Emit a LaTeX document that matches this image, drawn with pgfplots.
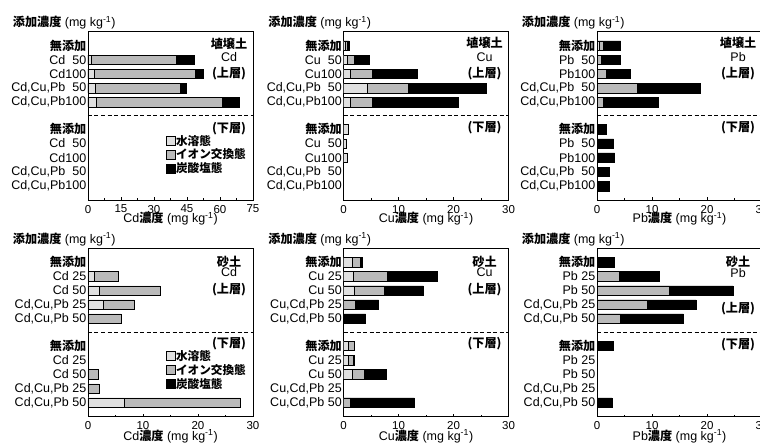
\documentclass[border=0pt]{standalone}
\usepackage{fontspec}
\setmainfont{Liberation Sans}
\newfontfamily\jp[Scale=0.97]{Noto Sans CJK JP}
\usepackage{pgfplots}
\pgfplotsset{compat=1.18}
\definecolor{cw}{gray}{0.88}
\definecolor{ci}{gray}{0.73}
\newcommand{\J}[1]{{\jp\bfseries #1}}
\newcommand{\unitlabel}{(mg kg\textsuperscript{-1})}
\tikzset{
  ann/.style={font=\fontsize{12.5}{13}\selectfont, inner sep=0pt},
  sep/.style={dash pattern=on 4pt off 2.5pt, line width=0.8pt},
}
\pgfplotsset{
  panel/.style={
    scale only axis, width=165pt, height=168.3pt,
    anchor=north west,
    ymin=0, ymax=168.3, xmin=0, xmax=30,
    xbar, bar width=9.5pt,
    xtick pos=bottom, ytick pos=left, tick align=inside,
    ytick={13.9,28.1,42.3,56.5,70.7,97.9,112,126.1,140.2,154.3},
    ytick style={draw=none},
    xtick={0,10,20,30}, minor x tick num=1,
    major tick length=3pt, minor tick length=2pt,
    tick style={black, line width=0.5pt},
    axis line style={line width=0.7pt},
    /pgf/number format/assume math mode=true,
    xticklabel style={font=\fontsize{11.5}{12}\selectfont, yshift=-1.5pt},
    yticklabel style={font=\fontsize{12.5}{13}\selectfont, inner sep=0.3pt, xshift=-1.2pt},
    label style={font=\fontsize{12.5}{13}\selectfont},
    legend style={draw=none, fill=none, font=\fontsize{12}{12}\selectfont,
      anchor=north east, inner sep=0pt, row sep=0.3pt,
      nodes={inner sep=1pt}},
    legend cell align=left,
    reverse legend,
    legend image code/.code={\draw[##1,/tikz/.cd,draw=black,line width=0.5pt] (0pt,-4.5pt) rectangle (9pt,4.5pt);},
  },
  cw/.style={fill=cw, draw=black, line width=0.5pt, bar shift=0pt},
  ci/.style={fill=ci, draw=black, line width=0.5pt, bar shift=0pt},
  cb/.style={fill=black, draw=black, line width=0.5pt, bar shift=0pt},
}
\begin{document}
\begin{tikzpicture}
\useasboundingbox (0,0) rectangle (760pt,-442pt);
% ---------------- Panel 1
\begin{axis}[panel, name=a1, at={(88pt,-31.7pt)}, xmax=75, xtick={0,15,...,75},
  yticklabels={{Cd,Cu,Pb100},{Cd,Cu,Pb\hphantom{1}50},{Cd100},{Cd\hphantom{1}50},{\J{無添加}},{Cd,Cu,Pb100},{Cd,Cu,Pb\hphantom{1}50},{Cd100},{Cd\hphantom{1}50},{\J{無添加}}},
  xlabel={Cd\J{濃度} \unitlabel}, xlabel style={yshift=8pt},
  legend style={at={(0.964,0.393)}}]
\addplot[cb] coordinates {(48.3,140.2) (52.5,126.1) (44.8,112) (68.6,97.9)};
\addplot[ci] coordinates {(39.9,140.2) (48.9,126.1) (41.9,112) (61.2,97.9) (0.3,28.1)};
\addplot[cw] coordinates {(1.5,140.2) (3.0,126.1) (3.3,112) (3.6,97.9)};
\addlegendentry{\J{炭酸塩態}}
\addlegendentry{\J{イオン交換態}}
\addlegendentry{\J{水溶態}}
\draw[sep] (axis cs:0,84.3) -- (axis cs:75,84.3);
\node[ann] at (axis cs:64.1,155.8) {\J{埴壌土}};
\node[ann] at (axis cs:64.1,143.3) {Cd};
\node[ann] at (axis cs:64.1,126.3) {\J{(上層)}};
\node[ann] at (axis cs:64.1,71.8) {\J{(下層)}};
\end{axis}
% ---------------- Panel 2
\begin{axis}[panel, name=a2, at={(343.5pt,-31.7pt)},
  yticklabels={{Cd,Cu,Pb100},{Cd,Cu,Pb\hphantom{1}50},{Cu100},{Cu\hphantom{1}50},{\J{無添加}},{Cd,Cu,Pb100},{Cd,Cu,Pb\hphantom{1}50},{Cu100},{Cu\hphantom{1}50},{\J{無添加}}},
  xlabel={Cu\J{濃度} \unitlabel}, xlabel style={yshift=8pt}]
\addplot[cb] coordinates {(1.0,154.3) (4.7,140.2) (13.4,126.1) (25.9,112) (20.8,97.9)};
\addplot[ci] coordinates {(0.6,154.3) (2.0,140.2) (5.2,126.1) (11.8,112) (5.2,97.9)};
\addplot[cw] coordinates {(0.3,154.3) (0.6,140.2) (1.2,126.1) (4.4,112) (1.2,97.9) (0.8,70.7) (0.5,56.5) (0.6,42.3)};
\draw[sep] (axis cs:0,84.3) -- (axis cs:30,84.3);
\node[ann] at (axis cs:25.65,156.7) {\J{埴壌土}};
\node[ann] at (axis cs:25.65,143.3) {Cu};
\node[ann] at (axis cs:25.65,126) {\J{(上層)}};
\node[ann] at (axis cs:25.65,72.3) {\J{(下層)}};
\end{axis}
% ---------------- Panel 3
\begin{axis}[panel, name=a3, at={(597pt,-31.7pt)},
  yticklabels={{Cd,Cu,Pb100},{Cd,Cu,Pb\hphantom{1}50},{Pb100},{Pb\hphantom{1}50},{\J{無添加}},{Cd,Cu,Pb100},{Cd,Cu,Pb\hphantom{1}50},{Pb100},{Pb\hphantom{1}50},{\J{無添加}}},
  xlabel={Pb\J{濃度} \unitlabel}, xlabel style={yshift=8pt}]
\addplot[cb] coordinates {(4.3,154.3) (4.3,140.2) (6.0,126.1) (18.8,112) (11.1,97.9) (1.6,70.7) (3.0,56.5) (3.2,42.3) (2.2,28.1) (2.2,13.9)};
\addplot[ci] coordinates {(1.1,154.3) (0.8,140.2) (1.6,126.1) (7.3,112) (1.2,97.9)};
\addplot[cw] coordinates {(0.4,154.3)};
\draw[sep] (axis cs:0,84.3) -- (axis cs:30,84.3);
\node[ann] at (axis cs:25.65,156.7) {\J{埴壌土}};
\node[ann] at (axis cs:25.65,143.3) {Pb};
\node[ann] at (axis cs:25.65,126) {\J{(上層)}};
\node[ann] at (axis cs:25.65,72.3) {\J{(下層)}};
\end{axis}
% ---------------- Panel 4
\begin{axis}[panel, name=a4, at={(88pt,-248.3pt)},
  yticklabels={{Cd,Cu,Pb 50},{Cd,Cu,Pb 25},{Cd 50},{Cd 25},{\J{無添加}},{Cd,Cu,Pb 50},{Cd,Cu,Pb 25},{Cd 50},{Cd 25},{\J{無添加}}},
  xlabel={Cd\J{濃度} \unitlabel}, xlabel style={yshift=7pt},
  legend style={at={(0.964,0.40)}}]
\addplot[cb] coordinates {(27.7,13.9)};
\addplot[ci] coordinates {(5.5,140.2) (13.1,126.1) (8.4,112) (6.0,97.9) (1.8,42.3) (2.0,28.1) (27.7,13.9)};
\addplot[cw] coordinates {(1.2,140.2) (2.1,126.1) (2.7,112) (6.6,13.9)};
\addlegendentry{\J{炭酸塩態}}
\addlegendentry{\J{イオン交換態}}
\addlegendentry{\J{水溶態}}
\draw[sep] (axis cs:0,84.3) -- (axis cs:30,84.3);
\node[ann] at (axis cs:25.65,154.9) {\J{砂土}};
\node[ann] at (axis cs:25.65,144.9) {Cd};
\node[ann] at (axis cs:25.65,126.6) {\J{(上層)}};
\node[ann] at (axis cs:25.65,72.6) {\J{(下層)}};
\end{axis}
% ---------------- Panel 5
\begin{axis}[panel, name=a5, at={(343.5pt,-248.3pt)},
  yticklabels={{Cu,Cd,Pb 50},{Cu,Cd,Pb 25},{Cu 50},{Cu 25},{\J{無添加}},{Cu,Cd,Pb 50},{Cu,Cd,Pb 25},{Cu 50},{Cu 25},{\J{無添加}}},
  xlabel={Cu\J{濃度} \unitlabel}, xlabel style={yshift=7pt}]
\addplot[cb] coordinates {(3.4,154.3) (17.0,140.2) (14.5,126.1) (6.4,112) (4.0,97.9) (2.0,56.5) (7.8,42.3) (12.9,13.9)};
\addplot[ci] coordinates {(3.0,154.3) (7.9,140.2) (7.4,126.1) (2.1,112) (1.9,70.7) (1.8,56.5) (3.7,42.3) (1.3,13.9)};
\addplot[cw] coordinates {(1.6,154.3) (1.8,140.2) (2.0,126.1) (0.9,70.7) (0.9,56.5) (1.5,42.3)};
\draw[sep] (axis cs:0,84.3) -- (axis cs:30,84.3);
\node[ann] at (axis cs:25.65,154.9) {\J{砂土}};
\node[ann] at (axis cs:25.65,144.3) {Cu};
\node[ann] at (axis cs:25.65,127.3) {\J{(上層)}};
\node[ann] at (axis cs:25.65,72.6) {\J{(下層)}};
\end{axis}
% ---------------- Panel 6
\begin{axis}[panel, name=a6, at={(597pt,-248.3pt)},
  yticklabels={{Cd,Cu,Pb 50},{Cd,Cu,Pb 25},{Pb 50},{Pb 25},{\J{無添加}},{Cd,Cu,Pb 50},{Cd,Cu,Pb 25},{Pb 50},{Pb 25},{\J{無添加}}},
  xlabel={Pb\J{濃度} \unitlabel}, xlabel style={yshift=7pt}]
\addplot[cb] coordinates {(3.1,154.3) (11.4,140.2) (24.7,126.1) (18.0,112) (15.7,97.9) (2.9,70.7) (2.7,13.9)};
\addplot[ci] coordinates {(4.0,140.2) (13.2,126.1) (9.1,112) (4.3,97.9)};
\draw[sep] (axis cs:0,84.3) -- (axis cs:30,84.3);
\node[ann] at (axis cs:25.65,154.3) {\J{砂土}};
\node[ann] at (axis cs:25.65,143.3) {Pb};
\node[ann] at (axis cs:25.65,108.3) {\J{(上層)}};
\node[ann] at (axis cs:25.65,71.5) {\J{(下層)}};
\end{axis}
% titles
\foreach \a in {a1,a2,a3,a4,a5,a6}{
  \node[anchor=west, inner sep=0pt, font=\fontsize{12.5}{13}\selectfont] at ([xshift=-75.3pt,yshift=9pt]\a.north west) {\J{添加濃度} \unitlabel};
}
\end{tikzpicture}
\end{document}
